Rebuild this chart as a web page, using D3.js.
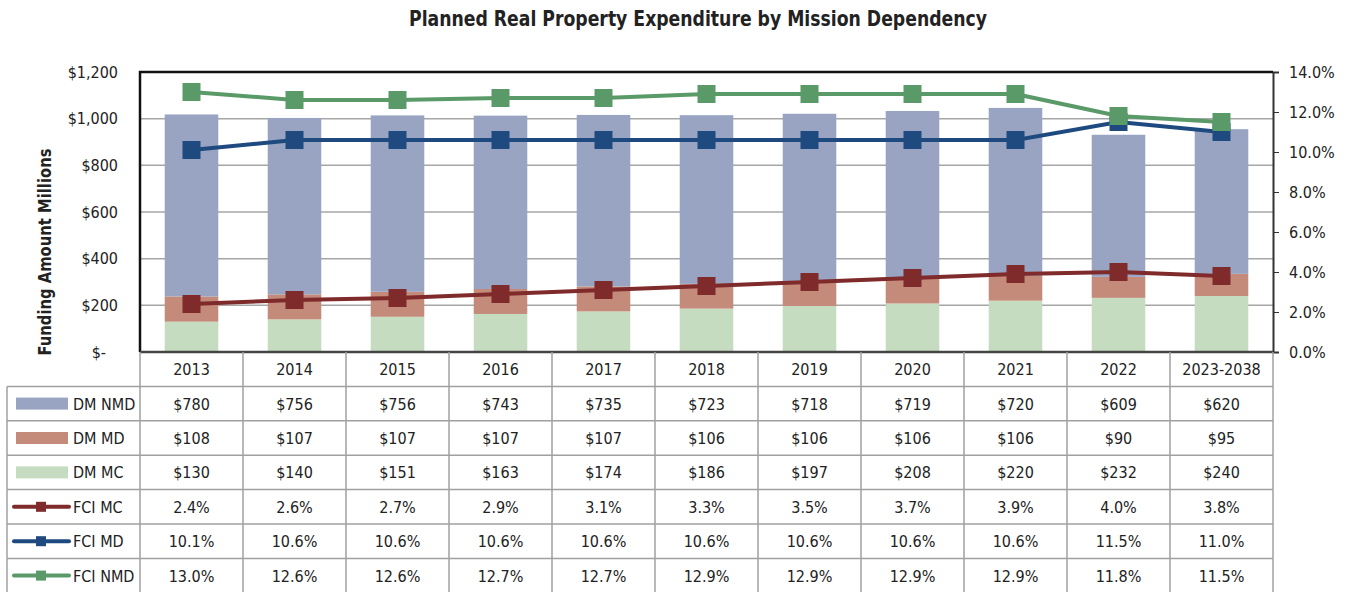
<!DOCTYPE html>
<html>
  <head>
    <meta charset="utf-8">
    <title>Planned Real Property Expenditure by Mission Dependency</title>
    <style>
      body { margin: 0; background: #fff; }
      text { font-family: "Liberation Sans Narrow", "DejaVu Sans Condensed", "Arial Narrow", sans-serif; fill: #222; }
    </style>
  </head>
  <body>
    <div id="container"></div>
    <script src="https://d3js.org/d3.v7.min.js"></script>
    <script>

      // DATA
      var years = ["2013", "2014", "2015", "2016", "2017", "2018", "2019", "2020", "2021", "2022", "2023-2038"];
      var dmNMD = [780, 756, 756, 743, 735, 723, 718, 719, 720, 609, 620];
      var dmMD = [108, 107, 107, 107, 107, 106, 106, 106, 106, 90, 95];
      var dmMC = [130, 140, 151, 163, 174, 186, 197, 208, 220, 232, 240];
      var fciMC = [2.4, 2.6, 2.7, 2.9, 3.1, 3.3, 3.5, 3.7, 3.9, 4.0, 3.8];
      var fciMD = [10.1, 10.6, 10.6, 10.6, 10.6, 10.6, 10.6, 10.6, 10.6, 11.5, 11.0];
      var fciNMD = [13.0, 12.6, 12.6, 12.7, 12.7, 12.9, 12.9, 12.9, 12.9, 11.8, 11.5];
      var leftTicks = [0, 200, 400, 600, 800, 1000, 1200];
      var rightTicks = [0, 2, 4, 6, 8, 10, 12, 14];

      // SET DIMENSIONS & MARGINS
      var W = 1351, H = 592;
      var margin = { top: 72, right: 78, bottom: 240, left: 140 },
        width = W - margin.left - margin.right,
        height = H - margin.top - margin.bottom;
      var rowH = 34.4;
      var tableLeft = 7;

      var svg = d3.select("#container")
        .append("svg")
        .attr("width", W)
        .attr("height", H);

      var g = svg.append("g")
        .attr("transform", "translate(" + margin.left + "," + margin.top + ")");

      // SCALES
      var x = d3.scaleBand().domain(years).range([0, width]).paddingInner(0).paddingOuter(0);
      var y = d3.scaleLinear().domain([0, 1200]).range([height, 0]);
      var y2 = d3.scaleLinear().domain([0, 14]).range([height, 0]);

      // TITLE
      svg.append("text")
        .attr("x", 698).attr("y", 26)
        .attr("text-anchor", "middle")
        .style("font-size", "21px").style("font-weight", "bold")
        .attr("textLength", 578).attr("lengthAdjust", "spacingAndGlyphs")
        .text("Planned Real Property Expenditure by Mission Dependency");

      // Y TITLE
      svg.append("text")
        .attr("transform", "translate(51,252) rotate(-90)")
        .attr("text-anchor", "middle")
        .style("font-size", "17px").style("font-weight", "bold")
        .attr("textLength", 207).attr("lengthAdjust", "spacingAndGlyphs")
        .text("Funding Amount Millions");

      // GRIDLINES
      g.selectAll(".grid")
        .data(leftTicks.filter(d => d > 0))
        .enter().append("line")
        .attr("x1", 0).attr("x2", width)
        .attr("y1", d => y(d)).attr("y2", d => y(d))
        .attr("stroke", "#a6a6a6").attr("stroke-width", 1.5);

      // LEFT AXIS
      var yAxis = g.append("g")
        .call(d3.axisLeft(y).tickValues(leftTicks).tickSize(0).tickPadding(22)
          .tickFormat(d => d === 0 ? "$-" : "$" + d3.format(",")(d)));
      yAxis.select(".domain").remove();
      yAxis.selectAll("text").style("font-size", "16px").attr("fill", "#222").style("font-family", null);
      yAxis.selectAll("text").filter(d => d === 0).attr("dx", -12);

      // RIGHT AXIS
      var yAxis2 = g.append("g")
        .attr("transform", "translate(" + width + ",0)")
        .call(d3.axisRight(y2).tickValues(rightTicks).tickSize(6).tickPadding(10)
          .tickFormat(d => d.toFixed(1) + "%"));
      yAxis2.select(".domain").attr("stroke", "#333").attr("stroke-width", 2);
      yAxis2.selectAll("line").attr("stroke", "#333");
      yAxis2.selectAll("text").style("font-size", "16px").attr("fill", "#222").style("font-family", null);

      // STACKED BARS
      var series = [
        { name: "DM MC", values: dmMC, color: "#c6dcc1" },
        { name: "DM MD", values: dmMD, color: "#c48b7a" },
        { name: "DM NMD", values: dmNMD, color: "#98a4c2" }
      ];
      var barW = x.bandwidth() * 0.52;
      var stackData = years.map((yr, i) => ({ year: yr, mc: dmMC[i], md: dmMD[i], nmd: dmNMD[i] }));
      var stacked = d3.stack().keys(["mc", "md", "nmd"])(stackData);
      g.selectAll(".layer")
        .data(stacked)
        .enter().append("g")
        .attr("fill", (d, i) => series[i].color)
        .selectAll("rect")
        .data(d => d)
        .enter().append("rect")
        .attr("x", d => x(d.data.year) + (x.bandwidth() - barW) / 2)
        .attr("width", barW)
        .attr("y", d => y(d[1]))
        .attr("height", d => y(d[0]) - y(d[1]));

      // LINES
      var lines = [
        { name: "FCI MC", values: fciMC, color: "#7f2a2b" },
        { name: "FCI MD", values: fciMD, color: "#1f4a7f" },
        { name: "FCI NMD", values: fciNMD, color: "#5a9a69" }
      ];
      var line = d3.line()
        .x((d, i) => x(years[i]) + x.bandwidth() / 2)
        .y(d => y2(d));
      var mk = 18;
      lines.forEach(function (s) {
        g.append("path")
          .datum(s.values)
          .attr("d", line)
          .attr("fill", "none")
          .attr("stroke", s.color)
          .attr("stroke-width", 4);
        g.selectAll(null)
          .data(s.values)
          .enter().append("rect")
          .attr("x", (d, i) => x(years[i]) + x.bandwidth() / 2 - mk / 2)
          .attr("y", d => y2(d) - mk / 2)
          .attr("width", mk).attr("height", mk)
          .attr("fill", s.color);
      });

      // PLOT BORDER
      g.append("path")
        .attr("d", "M0," + height + "V0H" + width)
        .attr("fill", "none").attr("stroke", "#111").attr("stroke-width", 2.5);
      g.append("line")
        .attr("x1", 0).attr("x2", width).attr("y1", height).attr("y2", height)
        .attr("stroke", "#444").attr("stroke-width", 2.5);

      // DATA TABLE
      var tbl = svg.append("g").attr("transform", "translate(0," + (margin.top + height) + ")");
      var gridColor = "#a0a0a0";
      var nRows = 6;
      var tableBottom = rowH * (nRows + 1);

      // header cells (years)
      tbl.selectAll(".hdr")
        .data(years)
        .enter().append("text")
        .attr("x", d => margin.left + x(d) + x.bandwidth() / 2)
        .attr("y", rowH / 2 + 6)
        .attr("text-anchor", "middle")
        .style("font-size", "16px")
        .text(d => d);

      var rows = [
        { name: "DM NMD", values: dmNMD, fmt: v => "$" + v, type: "bar", color: series[2].color },
        { name: "DM MD", values: dmMD, fmt: v => "$" + v, type: "bar", color: series[1].color },
        { name: "DM MC", values: dmMC, fmt: v => "$" + v, type: "bar", color: series[0].color },
        { name: "FCI MC", values: fciMC, fmt: v => v.toFixed(1) + "%", type: "line", color: lines[0].color },
        { name: "FCI MD", values: fciMD, fmt: v => v.toFixed(1) + "%", type: "line", color: lines[1].color },
        { name: "FCI NMD", values: fciNMD, fmt: v => v.toFixed(1) + "%", type: "line", color: lines[2].color }
      ];

      rows.forEach(function (r, ri) {
        var cy = rowH * (ri + 1) + rowH / 2;
        tbl.selectAll(null)
          .data(r.values)
          .enter().append("text")
          .attr("x", (d, i) => margin.left + x(years[i]) + x.bandwidth() / 2)
          .attr("y", cy + 6)
          .attr("text-anchor", "middle")
          .style("font-size", "16px")
          .text(d => r.fmt(d));
        if (r.type === "bar") {
          tbl.append("rect")
            .attr("x", 16).attr("y", cy - 6).attr("width", 52).attr("height", 12)
            .attr("fill", r.color);
        } else {
          tbl.append("line")
            .attr("x1", 14).attr("x2", 69).attr("y1", cy).attr("y2", cy)
            .attr("stroke", r.color).attr("stroke-width", 4).attr("stroke-linecap", "round");
          tbl.append("rect")
            .attr("x", 36).attr("y", cy - 5).attr("width", 10).attr("height", 10)
            .attr("fill", r.color);
        }
        tbl.append("text")
          .attr("x", 73).attr("y", cy + 6)
          .style("font-size", "16px")
          .text(r.name);
      });

      // table grid lines
      var hLines = d3.range(1, nRows + 2);
      tbl.selectAll(".hl")
        .data(hLines)
        .enter().append("line")
        .attr("x1", tableLeft).attr("x2", margin.left + width)
        .attr("y1", d => d * rowH).attr("y2", d => d * rowH)
        .attr("stroke", gridColor).attr("stroke-width", 1.5);
      var vCols = d3.range(0, years.length + 1).map(i => margin.left + i * x.step());
      tbl.selectAll(".vl")
        .data(vCols)
        .enter().append("line")
        .attr("x1", d => d).attr("x2", d => d)
        .attr("y1", 0).attr("y2", tableBottom)
        .attr("stroke", gridColor).attr("stroke-width", 1.5);
      tbl.append("line")
        .attr("x1", tableLeft).attr("x2", tableLeft)
        .attr("y1", rowH).attr("y2", tableBottom)
        .attr("stroke", gridColor).attr("stroke-width", 1.5);

    </script>
  </body>
</html>
